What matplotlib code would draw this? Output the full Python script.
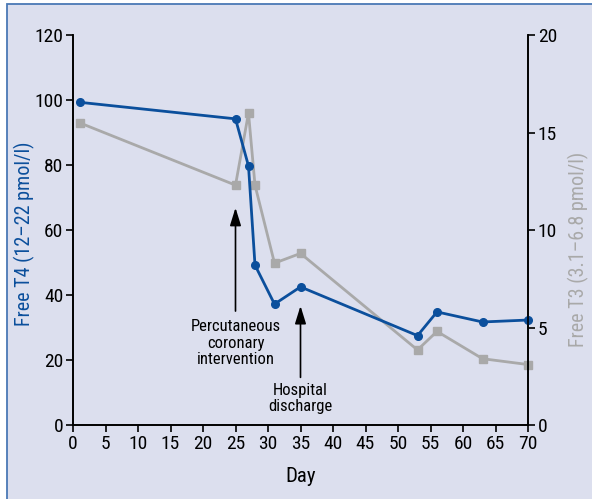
import matplotlib.pyplot as plt
from matplotlib.patches import Rectangle
from matplotlib import font_manager

# narrow sans close to the condensed face of the original
names = {f.name for f in font_manager.fontManager.ttflist}
font = 'Liberation Sans'
for cand in ['Roboto Condensed', 'Archivo Narrow', 'Barlow Semi Condensed', 'Liberation Sans Narrow']:
    if cand in names:
        font = cand
        break
plt.rcParams['font.family'] = [font, 'DejaVu Sans']

# data
days_t4 = [1, 25, 27, 28, 31, 35, 53, 56, 63, 70]
free_t4 = [99.3, 94.2, 79.7, 49.2, 37.2, 42.5, 27.5, 34.8, 31.7, 32.3]
days_t3 = [1, 25, 27, 28, 31, 35, 53, 56, 63, 70]
free_t3 = [15.5, 12.3, 16.0, 12.3, 8.3, 8.8, 3.85, 4.8, 3.4, 3.1]

blue = '#0b4f9c'
grey = '#a9a9a9'
panel = '#dcdfee'

fig = plt.figure(figsize=(5.92, 4.99), dpi=100)
fig.patches.append(Rectangle((7/592, -0.1), 1.1, (499-4)/499 + 0.1, transform=fig.transFigure,
                             facecolor=panel, edgecolor='#4a78b5', linewidth=1.3, zorder=-5))

ax = fig.add_axes([73/592, (499-425)/499, (528-73)/592, (425-35)/499])
ax2 = ax.twinx()
ax.set_zorder(ax2.get_zorder() + 1)
ax.patch.set_visible(False)
ax2.patch.set_facecolor('white')

ax2.plot(days_t3, free_t3, color=grey, lw=2.0, marker='s', ms=5.5, clip_on=False)
ax.plot(days_t4, free_t4, color=blue, lw=2.0, marker='o', ms=5.5, clip_on=False)

ax.set_xlim(0, 70)
ax.set_ylim(0, 120)
ax2.set_ylim(0, 20)
ax.set_xticks(range(0, 71, 5))
ax.set_yticks(range(0, 121, 20))
ax2.set_yticks(range(0, 21, 5))

for a in (ax, ax2):
    a.spines['top'].set_visible(False)
    for s in ('left', 'right', 'bottom'):
        a.spines[s].set_linewidth(1.2)
    a.tick_params(labelsize=14, length=5, width=1.2, pad=2)

ax.set_xlabel('Day', fontsize=15)
ax.xaxis.set_label_coords(0.5, -0.108)
ax.set_ylabel('Free T4 (12\u201322 pmol/l)', fontsize=14.5, color=blue)
ax.yaxis.set_label_coords(-0.083, 0.49)
ax2.set_ylabel('Free T3 (3.1\u20136.8 pmol/l)', fontsize=14.5, color=grey)
ax2.yaxis.set_label_coords(1.088, 0.45)

head = '-|>,head_length=0.9,head_width=0.28'
ax.annotate('', xy=(25, 67.7), xytext=(25, 34.2),
            arrowprops=dict(arrowstyle=head, color='black', lw=1.2, mutation_scale=12))
ax.text(25, 32.5, 'Percutaneous\ncoronary\nintervention', ha='center', va='top',
        fontsize=12, linespacing=1.1)
ax.annotate('', xy=(35, 37.5), xytext=(35, 13.8),
            arrowprops=dict(arrowstyle=head, color='black', lw=1.2, mutation_scale=12))
ax.text(35, 13, 'Hospital\ndischarge', ha='center', va='top', fontsize=12, linespacing=1.1)

fig.savefig('out.png', dpi=100)
